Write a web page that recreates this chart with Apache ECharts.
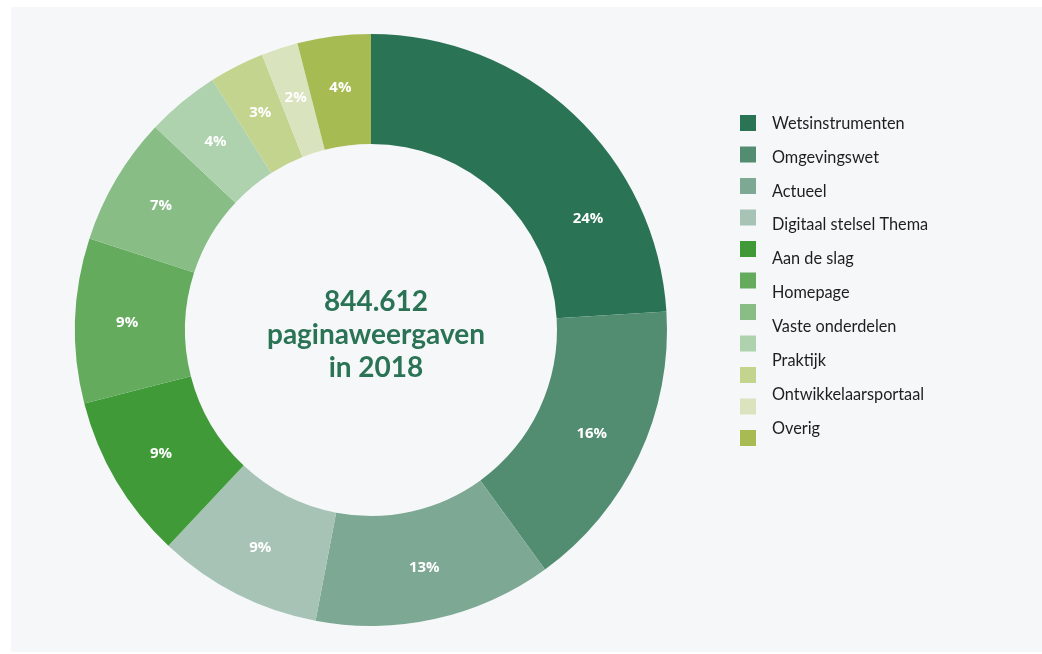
<!DOCTYPE html>
<html>
<head>
<meta charset="utf-8">
<script src="https://cdn.jsdelivr.net/npm/echarts@6/dist/echarts.min.js"></script>
<style>
    html, body { margin: 0; padding: 0; background: #ffffff; }
    #chart { position: absolute; left: 11px; top: 7px; width: 1031px; height: 645px; background: #f5f7f9; }
</style>
</head>
<body>
<div id="chart"></div>
<script>
    // slices, clockwise from the top
    var sliceNames = ['Wetsinstrumenten', 'Omgevingswet', 'Actueel', 'Digitaal stelsel Thema', 'Aan de slag',
        'Homepage', 'Vaste onderdelen', 'Praktijk', 'Ontwikkelaarsportaal', 'Overig ', 'Overig'];
    var sliceValues = [24, 16, 13, 9, 9, 9, 7, 4, 3, 2, 4];
    var sliceColors = ['#2a7355', '#528d72', '#7da894', '#a6c3b6', '#3f9a37',
        '#64ab5e', '#88bd86', '#aed2ad', '#c3d48f', '#d9e4bf', '#a6bb51'];
    // legend text as printed (one line fewer than swatches)
    var legendLabels = ['Wetsinstrumenten', 'Omgevingswet', 'Actueel', 'Digitaal stelsel Thema', 'Aan de slag',
        'Homepage', 'Vaste onderdelen', 'Praktijk', 'Ontwikkelaarsportaal', 'Overig'];
    var centerLines = ['844.612', 'paginaweergaven', 'in 2018'];

    var chart = echarts.init(document.getElementById('chart'));

    var data = [];
    for (var i = 0; i < sliceValues.length; i++) {
        var item = { name: sliceNames[i], value: sliceValues[i], itemStyle: { color: sliceColors[i] } };
        if (i === 0) item.label = { offset: [50, 67] }; // label sits lower in the big slice
        data.push(item);
    }

    // legend texts, spaced a bit wider than the swatches
    var legendTexts = [];
    for (var j = 0; j < legendLabels.length; j++) {
        legendTexts.push({
            type: 'text',
            x: 761,
            y: 116.4 + j * 33.93,
            style: {
                text: legendLabels[j],
                fill: '#1e1e1e',
                font: '16.3px Lato',
                verticalAlign: 'middle'
            }
        });
    }

    chart.setOption({
        animation: false,
        legend: {
            // swatches only
            data: sliceNames,
            orient: 'vertical',
            left: 729,
            top: 108,
            padding: 0,
            icon: 'rect',
            itemWidth: 16,
            itemHeight: 16,
            itemGap: 15.5,
            selectedMode: false,
            formatter: function () { return ''; }
        },
        graphic: legendTexts,
        title: {
            text: centerLines.join('\n'),
            left: 360,
            top: 323,
            textAlign: 'center',
            textVerticalAlign: 'middle',
            textStyle: { color: '#2a7355', fontSize: 28, fontWeight: 'bold', lineHeight: 33, fontFamily: 'Lato' }
        },
        series: [{
            type: 'pie',
            center: [360, 323],
            radius: [186, 296],
            startAngle: 90,
            clockwise: true,
            avoidLabelOverlap: false,
            label: {
                show: true,
                position: 'inside',
                formatter: '{c}%',
                color: '#ffffff',
                fontSize: 15,
                fontWeight: 'bold',
                fontFamily: 'Open Sans'
            },
            labelLine: { show: false },
            emphasis: { disabled: true },
            data: data
        }]
    });
</script>
</body>
</html>
